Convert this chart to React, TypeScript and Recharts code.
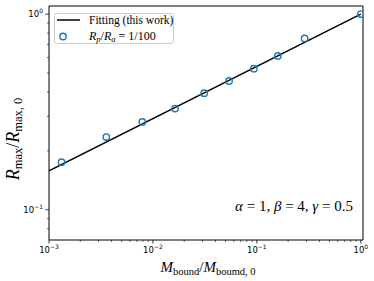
import React from "react";
import { ScatterChart, Scatter, XAxis, YAxis, ReferenceArea } from "recharts";

// simulation points (R_p/R_a = 1/100)
const massRatio = [0.00132, 0.00356, 0.0079, 0.0163, 0.0311, 0.054, 0.0935, 0.159, 0.288, 1.0];
const radiusRatio = [0.175, 0.235, 0.281, 0.329, 0.394, 0.455, 0.526, 0.611, 0.751, 1.0];

// fitting line end points
const fitMass = [0.001, 1.0];
const fitRadius = [0.158, 1.0];

const xMajor = [0.001, 0.01, 0.1, 1];
const yMajor = [0.1, 1];
const minorMult = [2, 3, 4, 5, 6, 7, 8, 9];
const xDomain = [0.001, 1.05];
const yDomain = [0.07, 1.1];

const BLUE = "#1f77b4";
const SERIF = "'Liberation Serif', 'DejaVu Serif', serif";
const TICKFONT = "'DejaVu Sans', sans-serif";

const points = massRatio.map((m, i) => ({ x: m, y: radiusRatio[i] }));
const fitLine = fitMass.map((m, i) => ({ x: m, y: fitRadius[i] }));

const xTicks = [
  ...xMajor,
  ...[0.001, 0.01, 0.1].flatMap(d => minorMult.map(k => +(d * k).toPrecision(3))),
];
const yTicks = [...yMajor, 0.08, 0.09, ...minorMult.map(k => +(0.1 * k).toPrecision(3))];

const isMajor = (list: number[], v: number) => list.some(t => Math.abs(t - v) / t < 1e-6);
const expOf = (v: number) => {
  const e = Math.round(Math.log10(v));
  return e < 0 ? "\u2212" + Math.abs(e) : String(e);
};

function XTick({ x, y, payload }: any) {
  const v = payload.value;
  const major = isMajor(xMajor, v);
  return (
    <g>
      <line x1={x} x2={x} y1={y} y2={y + (major ? 3.5 : 2)} stroke="#000" strokeWidth={major ? 0.8 : 0.6} />
      {major && (
        <text x={x} y={y + 13} textAnchor="middle" fontFamily={TICKFONT} fontSize={8.5} fill="#000">
          10<tspan dy={-4} fontSize={6}>{expOf(v)}</tspan>
        </text>
      )}
    </g>
  );
}

function YTick({ x, y, payload }: any) {
  const v = payload.value;
  const major = isMajor(yMajor, v);
  return (
    <g>
      <line x1={x} x2={x - (major ? 3.5 : 2)} y1={y} y2={y} stroke="#000" strokeWidth={major ? 0.8 : 0.6} />
      {major && (
        <text x={x - 6} y={y + 3} textAnchor="end" fontFamily={TICKFONT} fontSize={8.5} fill="#000">
          10<tspan dy={-4} fontSize={6}>{expOf(v)}</tspan>
        </text>
      )}
    </g>
  );
}

const Circle = (props: any) => (
  <circle cx={props.cx} cy={props.cy} r={3.2} fill="none" stroke={BLUE} strokeWidth={1.4} />
);

export default function App() {
  return (
    <div style={{ position: "absolute", left: 0, top: 0, width: 374, height: 281, background: "#fff" }}>
      <ScatterChart width={374} height={281} margin={{ top: 6, right: 11, bottom: 0, left: 0 }}>
        <XAxis
          dataKey="x" type="number" scale="log" domain={xDomain} allowDataOverflow
          ticks={xTicks} interval={0} tick={<XTick />} tickSize={0} tickMargin={0}
          axisLine={false} height={41}
        />
        <YAxis
          dataKey="y" type="number" scale="log" domain={yDomain} allowDataOverflow
          ticks={yTicks} interval={0} tick={<YTick />} tickSize={0} tickMargin={0}
          axisLine={false} width={49}
        />
        <Scatter
          data={fitLine} line={{ stroke: "#000", strokeWidth: 1.5 }} shape={() => <g />}
          isAnimationActive={false}
        />
        <Scatter data={points} shape={<Circle />} isAnimationActive={false} />
        <ReferenceArea
          x1={xDomain[0]} x2={xDomain[1]} y1={yDomain[0]} y2={yDomain[1]}
          fill="none" fillOpacity={0} stroke="#000" strokeWidth={1}
        />
      </ScatterChart>
      <svg width={374} height={281} style={{ position: "absolute", left: 0, top: 0, pointerEvents: "none" }}>
        {/* legend */}
        <g transform="translate(54,13)">
          <rect x={0.5} y={0.5} width={119} height={30} rx={2} fill="#fff" stroke="#ccc" strokeWidth={1} />
          <line x1={3} x2={26} y1={7} y2={7} stroke="#000" strokeWidth={1.5} />
          <text x={35} y={11} fontFamily={SERIF} fontSize={11.5} fill="#000">Fitting (this work)</text>
          <circle cx={9} cy={23.5} r={3.2} fill="none" stroke={BLUE} strokeWidth={1.4} />
          <text x={35} y={27} fontFamily={SERIF} fontSize={12} fill="#000">
            <tspan fontStyle="italic">R</tspan>
            <tspan fontSize={8.5} fontStyle="italic" dy={2}>p</tspan>
            <tspan dy={-2}>/</tspan>
            <tspan fontStyle="italic">R</tspan>
            <tspan fontSize={8.5} fontStyle="italic" dy={2}>a</tspan>
            <tspan dy={-2}> = 1/100</tspan>
          </text>
        </g>
        <text x={208} y={272} textAnchor="middle" fontFamily={SERIF} fontSize={15} fill="#000">
          <tspan fontStyle="italic">M</tspan>
          <tspan fontSize={10.5} dy={3}>bound</tspan>
          <tspan dy={-3}>/</tspan>
          <tspan fontStyle="italic">M</tspan>
          <tspan fontSize={10.5} dy={3}>boumd, 0</tspan>
        </text>
        <text transform="translate(19,139) rotate(-90)" textAnchor="middle" fontFamily={SERIF} fontSize={18} fill="#000">
          <tspan fontStyle="italic">R</tspan>
          <tspan fontSize={12.5} dy={3}>max</tspan>
          <tspan dy={-3}>/</tspan>
          <tspan fontStyle="italic">R</tspan>
          <tspan fontSize={12.5} dy={3}>max, 0</tspan>
        </text>
        <text x={353} y={211} textAnchor="end" fontFamily={SERIF} fontSize={15} fill="#000">
          <tspan fontStyle="italic">α</tspan> = 1, <tspan fontStyle="italic">β</tspan> = 4, <tspan fontStyle="italic">γ</tspan> = 0.5
        </text>
      </svg>
    </div>
  );
}
